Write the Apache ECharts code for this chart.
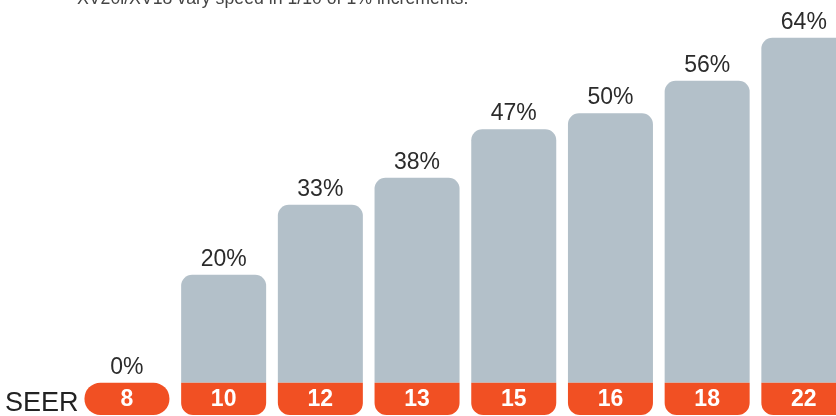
<!DOCTYPE html>
<html><head><meta charset="utf-8">
<script src="https://cdn.jsdelivr.net/npm/echarts@6/dist/echarts.min.js"></script>
<style>html,body{margin:0;padding:0;background:#fff}#c{width:836px;height:416px}</style>
</head><body><div id="c"></div>
<script>
var seerLabels = ['8','10','12','13','15','16','18','22'];
var savings = [0,20,33,38,47,50,56,64];
var boxValue = [-6,-6,-6,-6,-6,-6,-6,-6];
var noteText = 'XV20i/XV18 vary speed in 1/10 of 1% increments.';
var axisLabelText = 'SEER';

var chart = echarts.init(document.getElementById('c'), null, {renderer:'canvas'});
var gray = '#b3c0c9', orange = '#f15023';
chart.setOption({
  animation:false,
  grid:{left:78.6, width:773.6, top:0, bottom:1, outerBoundsMode:'none', containLabel:false},
  xAxis:{type:'category', data:seerLabels, show:false},
  yAxis:{type:'value', min:-6, max:71, show:false},
  series:[
    {type:'bar', data:savings, barWidth:85, barGap:'-100%',
     itemStyle:{color:gray, borderRadius:[11,11,0,0]},
     label:{show:true, position:'top', distance:4, formatter:'{c}%',
            fontFamily:'Liberation Sans, Arial', fontSize:23, color:'#2b2b2b'}},
    {type:'bar', data:boxValue.map(function(v,i){
        var d={value:v};
        if(savings[i]===0){d.itemStyle={borderRadius:[16,16,16,16]};}
        return d;}), barWidth:85,
     itemStyle:{color:orange, borderRadius:[0,0,12,12]},
     label:{show:true, position:'inside', formatter:function(p){return seerLabels[p.dataIndex];},
            fontFamily:'Liberation Sans, Arial', fontWeight:'bold', fontSize:23, color:'#fff', offset:[0,1]}}
  ],
  graphic:[
    {type:'text', left:77, top:-10, style:{text:noteText, fontFamily:'Liberation Sans, Arial', fontSize:17.7, fill:'#444'}},
    {type:'text', left:5, top:390, style:{text:axisLabelText, fontFamily:'Liberation Sans, Arial', fontSize:27, fill:'#222'}}
  ]
});
</script></body></html>
